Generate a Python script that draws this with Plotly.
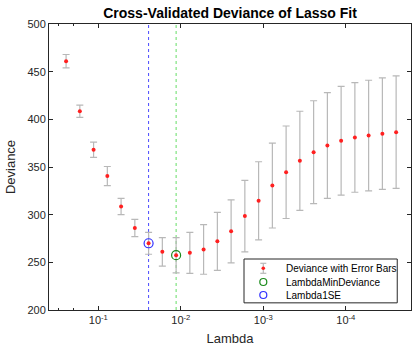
import plotly.graph_objects as go

lambdas = [0.2460, 0.1676, 0.1142, 0.07779, 0.05300, 0.03611, 0.02459, 0.01676,
           0.01141, 0.007775, 0.005297, 0.003608, 0.002458, 0.001675, 0.001141,
           0.0007772, 0.0005295, 0.0003607, 0.0002457, 0.0001674, 0.0001140,
           0.00007770, 0.00005293, 0.00003606, 0.00002457]
deviance = [461, 408.5, 368, 340.5, 308.5, 286, 270, 261, 257.5, 260, 263.5, 272,
            282.5, 298.5, 314.5, 330.5, 344.5, 356.5, 365.5, 372.5, 377.5, 381,
            383, 385, 386.5]
se = [7, 6.5, 8, 10, 8.5, 9, 11.5, 15, 18.5, 21.5, 26, 30.5, 33, 37.5, 41, 44.5,
      48.5, 52, 54, 55.5, 57, 57.5, 58, 58.5, 59]
idx_min = 8
idx_1se = 6
xtick_vals = [1e-1, 1e-2, 1e-3, 1e-4]
xtick_text = ["10<sup>-1</sup>", "10<sup>-2</sup>", "10<sup>-3</sup>", "10<sup>-4</sup>"]
ytick_vals = [200, 250, 300, 350, 400, 450, 500]
legend_labels = ["Deviance with Error Bars", "LambdaMinDeviance", "Lambda1SE"]

axcol = "#262626"
font = "Liberation Sans, Arial, sans-serif"
red = "#ff2020"
errcol = "#b8b8b8"
green = "#1a8a1a"
blue = "#3030ff"

fig = go.Figure()
# vertical dotted lines
fig.add_trace(go.Scatter(x=[lambdas[idx_1se]] * 2, y=[200, 500], mode="lines",
                         line=dict(color="#4a4aff", width=1, dash="dot"),
                         showlegend=False, hoverinfo="skip"))
fig.add_trace(go.Scatter(x=[lambdas[idx_min]] * 2, y=[200, 500], mode="lines",
                         line=dict(color="#66dd66", width=1, dash="dot"),
                         showlegend=False, hoverinfo="skip"))
fig.add_trace(go.Scatter(
    x=lambdas, y=deviance, mode="markers", name=legend_labels[0],
    marker=dict(color=red, size=4), showlegend=False,
    error_y=dict(type="data", array=se, visible=True, color=errcol,
                 thickness=1.2, width=3.5)))
fig.add_trace(go.Scatter(
    x=[lambdas[idx_min]], y=[deviance[idx_min]], mode="markers",
    name=legend_labels[1], showlegend=False,
    marker=dict(symbol="circle-open", size=9, color=green, line=dict(width=1.2))))
fig.add_trace(go.Scatter(
    x=[lambdas[idx_1se]], y=[deviance[idx_1se]], mode="markers",
    name=legend_labels[2], showlegend=False,
    marker=dict(symbol="circle-open", size=9, color=blue, line=dict(width=1.2))))

# ---- legend (drawn as layout decoration, paper coordinates) ----
lx0, lx1, ly0, ly1 = 0.5387, 0.962, 0.025, 0.1783
icon_x, text_x = 0.592, 0.649
rows_y = [0.1458, 0.0979, 0.0524]
shapes = [dict(type="rect", xref="paper", yref="paper", x0=lx0, x1=lx1, y0=ly0, y1=ly1,
               line=dict(color=axcol, width=1), fillcolor="white", layer="above")]
# error bar icon
shapes.append(dict(type="line", xref="paper", yref="paper", xsizemode="pixel",
                   ysizemode="pixel", xanchor=icon_x, yanchor=rows_y[0],
                   x0=0, x1=0, y0=-5, y1=5, line=dict(color=errcol, width=1.2),
                   layer="above"))
for yy in (-5, 5):
    shapes.append(dict(type="line", xref="paper", yref="paper", xsizemode="pixel",
                       ysizemode="pixel", xanchor=icon_x, yanchor=rows_y[0],
                       x0=-3, x1=3, y0=yy, y1=yy, line=dict(color=errcol, width=1.2),
                       layer="above"))
shapes.append(dict(type="circle", xref="paper", yref="paper", xsizemode="pixel",
                   ysizemode="pixel", xanchor=icon_x, yanchor=rows_y[0],
                   x0=-1.8, x1=1.8, y0=-1.8, y1=1.8, fillcolor=red,
                   line=dict(color=red, width=0), layer="above"))
for yy, col in ((rows_y[1], green), (rows_y[2], blue)):
    shapes.append(dict(type="circle", xref="paper", yref="paper", xsizemode="pixel",
                       ysizemode="pixel", xanchor=icon_x, yanchor=yy,
                       x0=-3.5, x1=3.5, y0=-3.5, y1=3.5,
                       line=dict(color=col, width=1.2), layer="above"))
annotations = [dict(text=t, xref="paper", yref="paper", x=text_x, y=yy,
                    xanchor="left", yanchor="middle", showarrow=False,
                    font=dict(size=10, color="black", family=font))
               for t, yy in zip(legend_labels, rows_y)]

fig.update_layout(
    width=413, height=346,
    margin=dict(l=49, r=2, t=24, b=36),
    paper_bgcolor="white", plot_bgcolor="white",
    font=dict(family=font, color=axcol, size=11),
    title=dict(text="<b>Cross-Validated Deviance of Lasso Fit</b>",
               x=0.557, xanchor="center", y=0.962, yanchor="middle",
               font=dict(size=14, color="black")),
    xaxis=dict(type="log", range=[-0.402, -4.79], tickvals=xtick_vals,
               ticktext=xtick_text, ticks="inside", ticklen=4,
               showline=True, linecolor=axcol, linewidth=1, mirror="ticks",
               tickcolor=axcol, showgrid=False, zeroline=False,
               minor=dict(ticks="inside", ticklen=2, tickcolor=axcol, showgrid=False),
               title=dict(text="Lambda", font=dict(size=13), standoff=8),
               tickfont=dict(size=11)),
    yaxis=dict(range=[200, 500], tickvals=ytick_vals, ticks="inside", ticklen=4,
               showline=True, linecolor=axcol, linewidth=1, mirror="ticks",
               tickcolor=axcol, showgrid=False, zeroline=False,
               title=dict(text="Deviance", font=dict(size=13), standoff=8),
               tickfont=dict(size=11)),
    shapes=shapes,
    annotations=annotations,
    showlegend=False,
)

fig.write_html("out.html")
